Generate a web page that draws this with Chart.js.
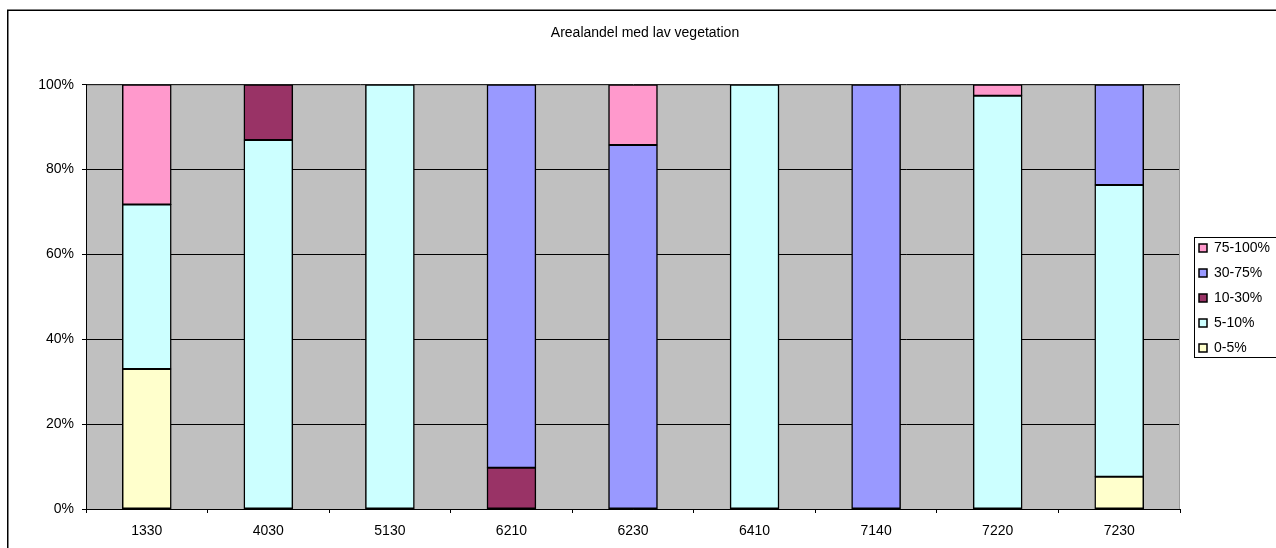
<!DOCTYPE html>
<html>
<head>
<meta charset="utf-8">
<script src="https://cdn.jsdelivr.net/npm/chart.js@4.4.1/dist/chart.umd.min.js"></script>
<style>
  html, body { margin: 0; padding: 0; background: #fff; }
  #chart { display: block; }
</style>
</head>
<body>
<canvas id="chart" width="1276" height="548"></canvas>
<script>
// Habitat types on the x axis
const categories = ['1330', '4030', '5130', '6210', '6230', '6410', '7140', '7220', '7230'];

// Share of area (%) per cover class, one entry per habitat type
const cover0to5 = [33.0, 0, 0, 0, 0, 0, 0, 0, 7.6];
const cover5to10 = [38.8, 87.0, 100, 0, 0, 100, 0, 97.4, 68.8];
const cover10to30 = [0, 13.0, 0, 9.7, 0, 0, 0, 0, 0];
const cover30to75 = [0, 0, 0, 90.3, 85.8, 0, 100, 0, 23.6];
const cover75to100 = [28.2, 0, 0, 0, 14.2, 0, 0, 2.6, 0];

const seriesLabels = ['0-5%', '5-10%', '10-30%', '30-75%', '75-100%'];
const seriesData = [cover0to5, cover5to10, cover10to30, cover30to75, cover75to100];
const seriesColors = ['#FFFFCC', '#CCFFFF', '#993366', '#9999FF', '#FF99CC'];

const yTicks = [0, 20, 40, 60, 80, 100];

Chart.defaults.font.family = '"Liberation Sans", Arial, sans-serif';
Chart.defaults.font.size = 13;
Chart.defaults.color = '#000';

// Excel-like frame: white page with outer border, grey plot area, legend box
const frame = {
  id: 'frame',
  beforeLayout(chart) {
    const lg = chart.legend;
    if (lg && !lg._fixedWidth) {
      const fit = lg.fit;
      lg.fit = function () { fit.call(this); this.width = 96; };
      lg._fixedWidth = true;
    }
  },
  afterLayout(chart) {
    const lg = chart.legend;
    lg.left = 1188; lg.right = 1276; lg.width = 88;
    lg.top = 230; lg.bottom = 548; lg.height = 318;
    const t = chart.titleBlock;
    if (t) { t.left = 14; t.right = 1276; t.width = 1262; }
  },
  beforeDraw(chart) {
    const ctx = chart.ctx;
    const a = chart.chartArea;
    ctx.save();
    ctx.fillStyle = '#fff';
    ctx.fillRect(0, 0, chart.width, chart.height);
    ctx.strokeStyle = '#000';
    ctx.lineWidth = 1.5;
    ctx.strokeRect(7.75, 10.25, 1300, 600);
    ctx.fillStyle = '#C0C0C0';
    ctx.fillRect(a.left, a.top, a.right - a.left, a.bottom - a.top);
    ctx.restore();
  },
  beforeDatasetsDraw(chart) {
    const ctx = chart.ctx;
    const a = chart.chartArea;
    ctx.save();
    ctx.strokeStyle = '#9a9a9a';
    ctx.lineWidth = 1;
    ctx.beginPath();
    ctx.moveTo(a.left + 1, a.top + 0.5);
    ctx.lineTo(a.right - 0.5, a.top + 0.5);
    ctx.lineTo(a.right - 0.5, a.bottom);
    ctx.stroke();
    ctx.restore();
  },
  afterDraw(chart) {
    const ctx = chart.ctx;
    ctx.save();
    ctx.strokeStyle = '#000';
    ctx.lineWidth = 1;
    ctx.strokeRect(1194.5, 237.5, 100, 120);
    ctx.restore();
  }
};

new Chart(document.getElementById('chart').getContext('2d'), {
  type: 'bar',
  data: {
    labels: categories,
    datasets: seriesLabels.map((label, i) => ({
      label: label,
      data: seriesData[i].map(v => (v === 0 ? null : v)),
      backgroundColor: seriesColors[i],
      borderColor: '#000',
      borderWidth: 1.5,
      borderSkipped: false,
      inflateAmount: 0.5,
      categoryPercentage: 1,
      barPercentage: 0.4
    }))
  },
  options: {
    responsive: false,
    animation: false,
    layout: { padding: 0 },
    plugins: {
      title: {
        display: true,
        text: 'Arealandel med lav vegetation',
        font: { size: 14, weight: 'normal' },
        color: '#000',
        padding: { top: 25, bottom: 43 }
      },
      legend: {
        position: 'right',
        align: 'start',
        reverse: true,
        labels: {
          boxWidth: 8,
          boxHeight: 8,
          padding: 11,
          font: { size: 14 },
          color: '#000'
        }
      },
      tooltip: { enabled: false }
    },
    scales: {
      x: {
        stacked: true,
        grid: {
          offset: true,
          drawOnChartArea: false,
          drawTicks: true,
          tickLength: 4,
          color: '#000'
        },
        border: { color: '#000', width: 1 },
        ticks: { padding: 10, maxRotation: 0, font: { size: 14 } },
        afterFit(scale) { scale.height = 39; }
      },
      y: {
        stacked: true,
        min: 0,
        max: 100,
        afterBuildTicks(scale) { scale.ticks = yTicks.map(v => ({ value: v })); },
        grid: { color: '#000', tickLength: 4, lineWidth: 1 },
        border: { color: '#000', width: 1 },
        ticks: { padding: 8, callback: v => v + '%', font: { size: 14 } },
        afterFit(scale) { scale.width = 86; }
      }
    }
  },
  plugins: [frame]
});
</script>
</body>
</html>
